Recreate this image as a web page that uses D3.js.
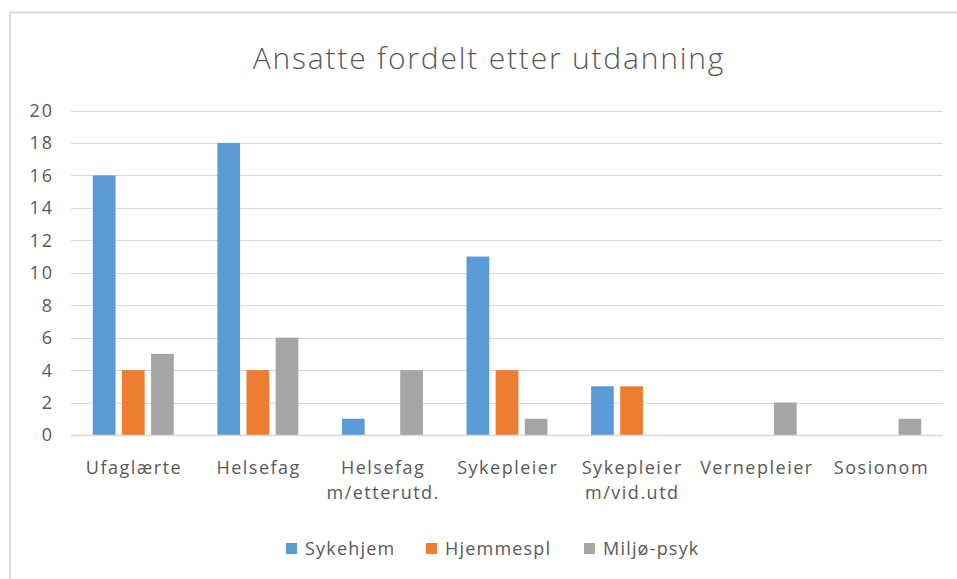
<!DOCTYPE html>
<html><head><meta charset="utf-8">
<script src="https://cdn.jsdelivr.net/npm/d3@7"></script>
<style>body{margin:0;background:#fff;}svg{display:block;}</style>
</head><body>
<svg id="c" width="957" height="579"></svg>
<script>
const categories = [["Ufaglærte"],["Helsefag"],["Helsefag","m/etterutd."],["Sykepleier"],["Sykepleier","m/vid.utd"],["Vernepleier"],["Sosionom"]];
const seriesNames = ["Sykehjem","Hjemmespl","Miljø-psyk"];
const sykehjem = [16,18,1,11,3,0,0];
const hjemmespl = [4,4,0,4,3,0,0];
const miljoPsyk = [5,6,4,1,0,2,1];
const yTicks = [0,2,4,6,8,10,12,14,16,18,20];
const colors = ["#5B9BD5","#ED7D31","#A5A5A5"];
const title = "Ansatte fordelt etter  utdanning";

(function(){
const values = [sykehjem, hjemmespl, miljoPsyk];
const svg = d3.select("#c");
const font = "'Open Sans', sans-serif";
const txt = "#595959";

svg.append("path").attr("d","M10,579 V12.5 H957").attr("fill","none").attr("stroke","#D9D9D9").attr("stroke-width",2);

const pl=71, pr=943, pt=110.5, pb=435;
const x0 = d3.scaleBand().domain(d3.range(categories.length)).range([pl,pr]);
const x1 = d3.scaleBand().domain(d3.range(3)).range([0,81]).paddingInner(0.22);
const y = d3.scaleLinear().domain([0,20]).range([pb,pt]);

svg.append("g").selectAll("line").data(yTicks).join("line")
  .attr("x1",pl).attr("x2",pr)
  .attr("y1",d=>Math.round(y(d))+0.5).attr("y2",d=>Math.round(y(d))+0.5)
  .attr("stroke","#D9D9D9").attr("stroke-width",1);

svg.append("g").selectAll("text").data(yTicks).join("text")
  .attr("x",54).attr("y",d=>y(d)).attr("dy","0.36em")
  .attr("text-anchor","end").attr("font-family",font).attr("font-size",18).attr("letter-spacing",2).attr("fill",txt)
  .text(d=>d);

const groupOffset = (x0.bandwidth()-81)/2;
categories.forEach((c,i)=>{
  values.forEach((s,j)=>{
    if(s[i]>0){
      svg.append("rect")
        .attr("x",x0(i)+groupOffset+x1(j))
        .attr("width",x1.bandwidth())
        .attr("y",y(s[i]))
        .attr("height",y(0)-y(s[i]))
        .attr("fill",colors[j]);
    }
  });
});

svg.append("line").attr("x1",pl).attr("x2",pr).attr("y1",pb+0.5).attr("y2",pb+0.5)
  .attr("stroke","#D9D9D9").attr("stroke-width",1.5);

const cl = svg.append("g");
categories.forEach((c,i)=>{
  const t = cl.append("text").attr("text-anchor","middle").attr("font-family",font).attr("font-size",18).attr("letter-spacing",1.5).attr("fill",txt);
  c.forEach((line,k)=>{
    t.append("tspan").attr("x",x0(i)+x0.bandwidth()/2+0.75).attr("y",474+k*25).text(line);
  });
});

svg.append("text").attr("x",489).attr("y",69).attr("text-anchor","middle")
  .attr("font-family",font).attr("font-size",30).attr("font-weight",300).attr("letter-spacing",1.8).attr("fill",txt).text(title);

const legX = [286,426,584];
seriesNames.forEach((n,j)=>{
  svg.append("rect").attr("x",legX[j]).attr("y",543).attr("width",11).attr("height",11).attr("fill",colors[j]);
  svg.append("text").attr("x",legX[j]+19).attr("y",549).attr("dy","0.36em")
    .attr("font-family",font).attr("font-size",18).attr("letter-spacing",1.2).attr("fill",txt).text(n);
});
})();
</script>
</body></html>
